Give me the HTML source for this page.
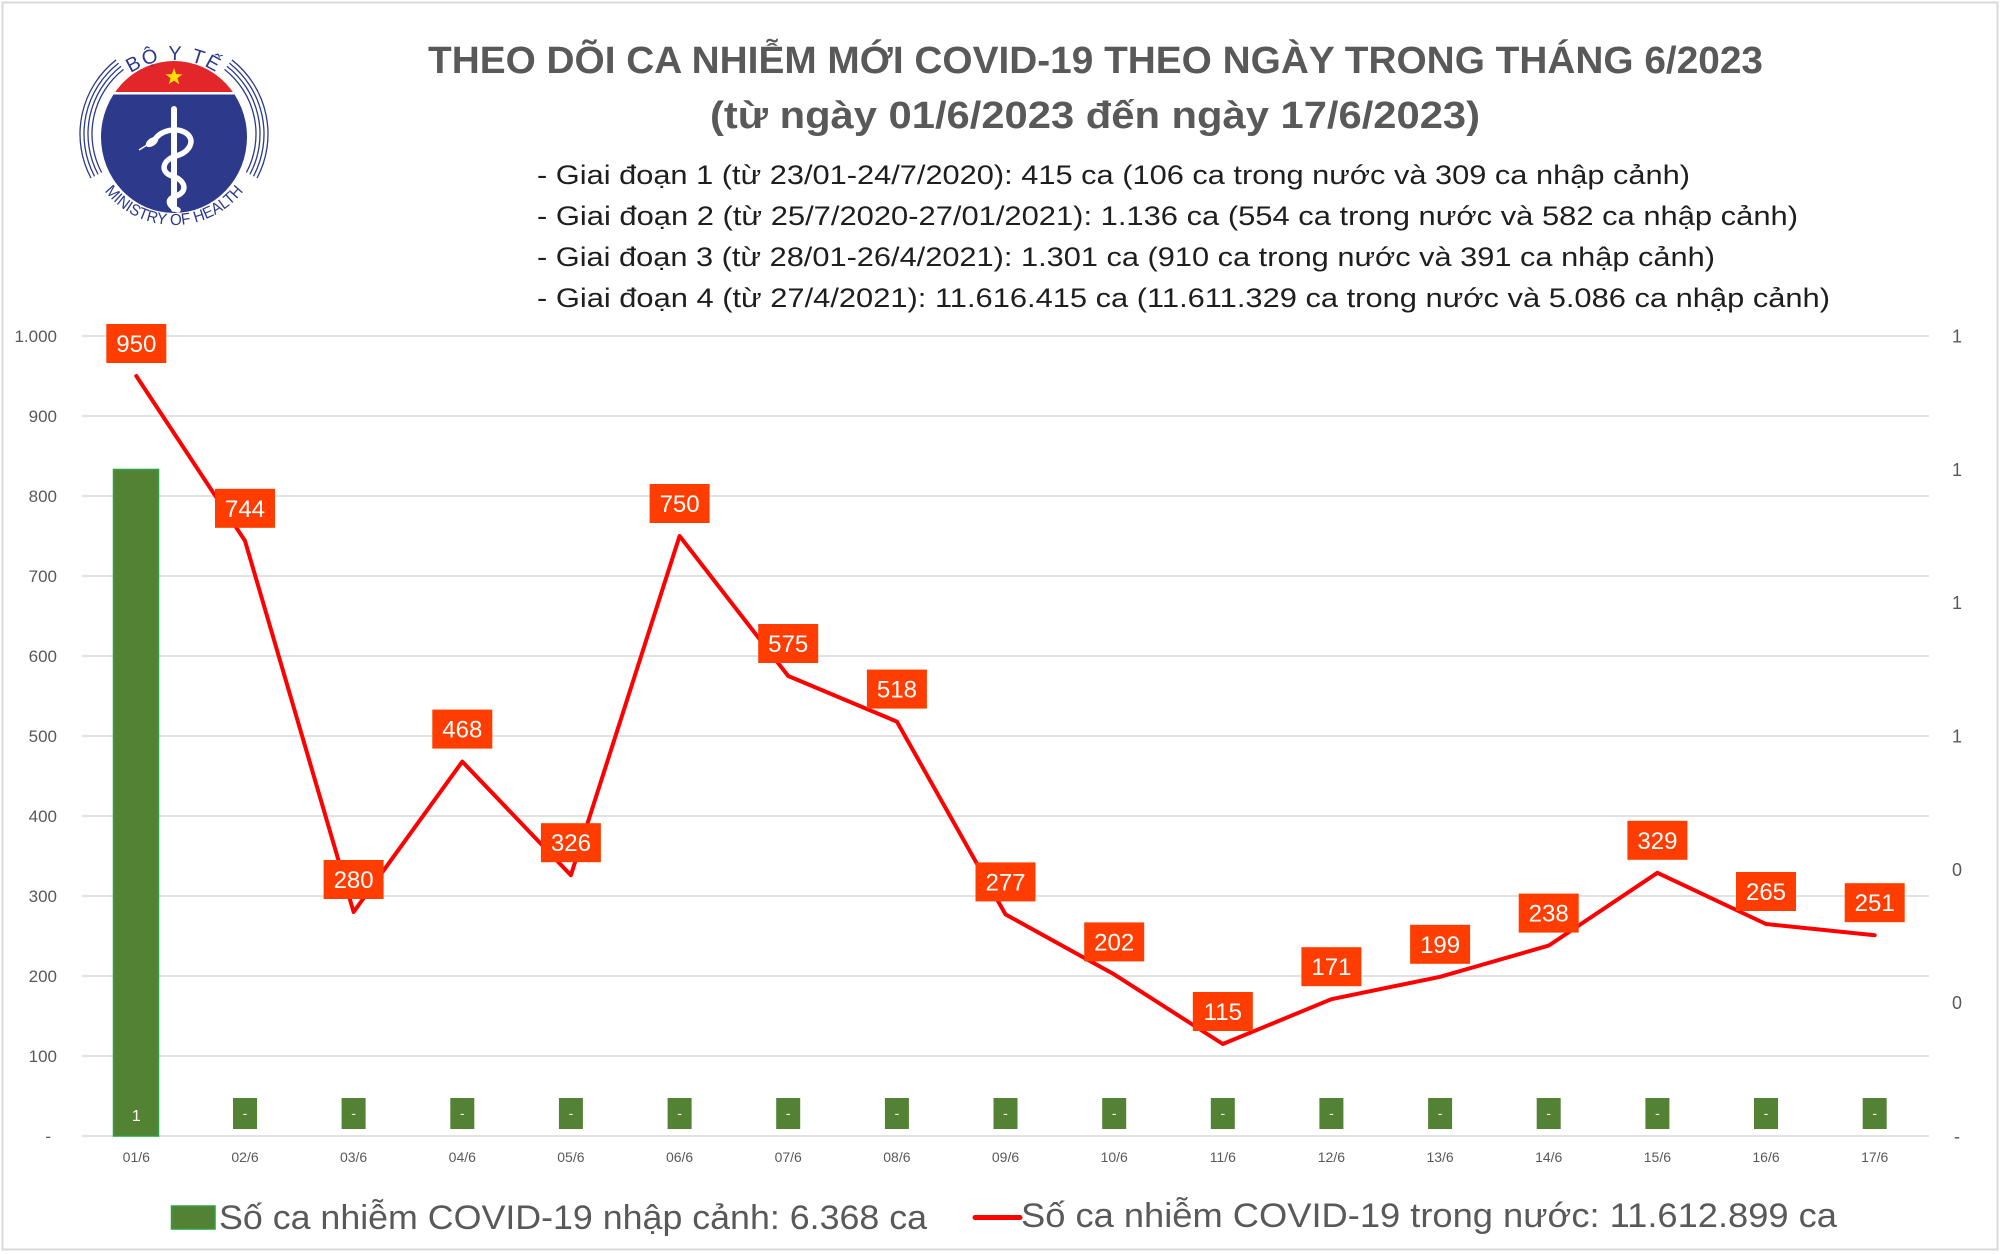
<!DOCTYPE html>
<html>
<head>
<meta charset="utf-8">
<style>
html,body{margin:0;padding:0;background:#fff;}
svg{display:block;}
text{font-family:"Liberation Sans","DejaVu Sans",sans-serif;}
</style>
</head>
<body>
<svg width="2000" height="1254" viewBox="0 0 2000 1254" xmlns="http://www.w3.org/2000/svg">
<rect x="0" y="0" width="2000" height="1254" fill="#fff"/>
<rect x="2.5" y="2.5" width="1995" height="1247" fill="none" stroke="#d9d9d9" stroke-width="2"/>

<!-- Logo -->
<defs>
<clipPath id="lc"><ellipse cx="174" cy="137" rx="73" ry="76"/></clipPath>
<path id="topArc" d="M129.83,73.92 A77 77 0 0 1 218.17,73.92"/>
<path id="botArc" d="M101.91,187.48 A88 88 0 0 0 246.09,187.48"/>
</defs>
<g clip-path="url(#lc)">
<rect x="90" y="50" width="170" height="42" fill="#e3262a"/>
<rect x="90" y="92" width="170" height="2.5" fill="#fff"/>
<rect x="90" y="94.5" width="170" height="130" fill="#2d3a8c"/>
</g>
<polygon points="174,68 176.12,74.09 182.56,74.22 177.42,78.11 179.29,84.28 174,80.6 168.71,84.28 170.58,78.11 165.44,74.22 171.88,74.09" fill="#ffe000"/>
<rect x="171" y="106" width="6" height="106" rx="3" fill="#fff"/>
<path d="M154,141 C160,130 176,127 186,133 C196,140 190,152 176,156 C162,160 160,172 172,176 C186,180 188,192 176,196 C166,199 168,206 178,210" fill="none" stroke="#fff" stroke-width="5.5" stroke-linecap="round"/>
<ellipse cx="152" cy="142" rx="7" ry="4" transform="rotate(-35 152 142)" fill="#fff"/>
<line x1="147" y1="145" x2="139" y2="150" stroke="#fff" stroke-width="1.4"/>
<g fill="none" stroke="#2d3a8c" stroke-width="1.3">
<path d="M123.51,69.38 A82 82 0 0 0 101.60,172.50"/>
<path d="M224.49,69.38 A82 82 0 0 1 246.40,172.50"/>
<path d="M121.05,66.23 A86 86 0 0 0 98.07,174.38"/>
<path d="M226.95,66.23 A86 86 0 0 1 249.93,174.38"/>
<path d="M118.59,63.08 A90 90 0 0 0 94.54,176.26"/>
<path d="M229.41,63.08 A90 90 0 0 1 253.46,176.26"/>
<path d="M116.12,59.93 A94 94 0 0 0 91.01,178.13"/>
<path d="M231.88,59.93 A94 94 0 0 1 256.99,178.13"/>
</g>
<text font-size="20" fill="#2d3a8c"><textPath href="#topArc" startOffset="50%" text-anchor="middle" letter-spacing="2">BỘ Y TẾ</textPath></text>
<text font-size="16" fill="#2d3a8c"><textPath href="#botArc" startOffset="50%" text-anchor="middle" textLength="160" lengthAdjust="spacingAndGlyphs">MINISTRY OF HEALTH</textPath></text>

<!-- Title -->
<text x="428" y="73" font-size="38" font-weight="bold" fill="#595959" textLength="1335" lengthAdjust="spacingAndGlyphs">THEO DÕI CA NHIỄM MỚI COVID-19 THEO NGÀY TRONG THÁNG 6/2023</text>
<text x="710" y="128" font-size="38" font-weight="bold" fill="#595959" textLength="770" lengthAdjust="spacingAndGlyphs">(từ ngày 01/6/2023 đến ngày 17/6/2023)</text>

<g font-size="27" fill="#1e1e1e">
<text x="537" y="184" textLength="1153" lengthAdjust="spacingAndGlyphs">- Giai đoạn 1 (từ 23/01-24/7/2020): 415 ca (106 ca trong nước và 309 ca nhập cảnh)</text>
<text x="537" y="225" textLength="1261" lengthAdjust="spacingAndGlyphs">- Giai đoạn 2 (từ 25/7/2020-27/01/2021): 1.136 ca (554 ca trong nước và 582 ca nhập cảnh)</text>
<text x="537" y="266" textLength="1178" lengthAdjust="spacingAndGlyphs">- Giai đoạn 3 (từ 28/01-26/4/2021): 1.301 ca (910 ca trong nước và 391 ca nhập cảnh)</text>
<text x="537" y="307" textLength="1293" lengthAdjust="spacingAndGlyphs">- Giai đoạn 4 (từ 27/4/2021): 11.616.415 ca (11.611.329 ca trong nước và 5.086 ca nhập cảnh)</text>
</g>

<!-- Gridlines -->
<g stroke="#d9d9d9" stroke-width="1.5">
<line x1="82" y1="336" x2="1929" y2="336"/>
<line x1="82" y1="416" x2="1929" y2="416"/>
<line x1="82" y1="496" x2="1929" y2="496"/>
<line x1="82" y1="576" x2="1929" y2="576"/>
<line x1="82" y1="656" x2="1929" y2="656"/>
<line x1="82" y1="736" x2="1929" y2="736"/>
<line x1="82" y1="816" x2="1929" y2="816"/>
<line x1="82" y1="896" x2="1929" y2="896"/>
<line x1="82" y1="976" x2="1929" y2="976"/>
<line x1="82" y1="1056" x2="1929" y2="1056"/>
<line x1="82" y1="1136" x2="1929" y2="1136"/>
</g>

<!-- Left axis -->
<g font-size="17" fill="#595959" text-anchor="end">
<text x="57" y="342">1.000</text>
<text x="57" y="422">900</text>
<text x="57" y="502">800</text>
<text x="57" y="582">700</text>
<text x="57" y="662">600</text>
<text x="57" y="742">500</text>
<text x="57" y="822">400</text>
<text x="57" y="902">300</text>
<text x="57" y="982">200</text>
<text x="57" y="1062">100</text>
<text x="51" y="1142">-</text>
</g>
<!-- Right axis -->
<g font-size="18" fill="#595959" text-anchor="middle">
<text x="1957" y="342.5">1</text>
<text x="1957" y="475.8">1</text>
<text x="1957" y="609.2">1</text>
<text x="1957" y="742.5">1</text>
<text x="1957" y="875.8">0</text>
<text x="1957" y="1009.2">0</text>
<text x="1957" y="1142.5">-</text>
</g>

<!-- Bars -->
<rect x="113.5" y="469.5" width="45" height="666.5" fill="#548235" stroke="#2ea043" stroke-width="1.5"/>
<text x="136.3" y="1121" font-size="16" fill="#fff" text-anchor="middle">1</text>
<g fill="#548235">
<rect x="233" y="1098" width="24" height="31"/>
<rect x="341.6" y="1098" width="24" height="31"/>
<rect x="450.3" y="1098" width="24" height="31"/>
<rect x="558.9" y="1098" width="24" height="31"/>
<rect x="667.6" y="1098" width="24" height="31"/>
<rect x="776.2" y="1098" width="24" height="31"/>
<rect x="884.9" y="1098" width="24" height="31"/>
<rect x="993.5" y="1098" width="24" height="31"/>
<rect x="1102.2" y="1098" width="24" height="31"/>
<rect x="1210.8" y="1098" width="24" height="31"/>
<rect x="1319.4" y="1098" width="24" height="31"/>
<rect x="1428.1" y="1098" width="24" height="31"/>
<rect x="1536.7" y="1098" width="24" height="31"/>
<rect x="1645.4" y="1098" width="24" height="31"/>
<rect x="1754" y="1098" width="24" height="31"/>
<rect x="1862.7" y="1098" width="24" height="31"/>
</g>
<g font-size="14" fill="#fff" text-anchor="middle">
<text x="245" y="1118">-</text>
<text x="353.6" y="1118">-</text>
<text x="462.3" y="1118">-</text>
<text x="570.9" y="1118">-</text>
<text x="679.6" y="1118">-</text>
<text x="788.2" y="1118">-</text>
<text x="896.9" y="1118">-</text>
<text x="1005.5" y="1118">-</text>
<text x="1114.2" y="1118">-</text>
<text x="1222.8" y="1118">-</text>
<text x="1331.4" y="1118">-</text>
<text x="1440.1" y="1118">-</text>
<text x="1548.7" y="1118">-</text>
<text x="1657.4" y="1118">-</text>
<text x="1766" y="1118">-</text>
<text x="1874.7" y="1118">-</text>
</g>

<!-- Line -->
<polyline fill="none" stroke="#ff0000" stroke-width="4" stroke-linejoin="round" stroke-linecap="round"
points="136.3,376 245,540.8 353.6,912 462.3,761.6 570.9,875.2 679.6,536 788.2,676 896.9,721.6 1005.5,914.4 1114.2,974.4 1222.8,1044 1331.4,999.2 1440.1,976.8 1548.7,945.6 1657.4,872.8 1766,924 1874.7,935.2"/>

<!-- Data label boxes -->
<g fill="#ff3d00">
<rect x="106.3" y="324" width="60" height="39"/>
<rect x="215" y="488.8" width="60" height="39"/>
<rect x="323.6" y="860" width="60" height="39"/>
<rect x="432.3" y="709.6" width="60" height="39"/>
<rect x="540.9" y="823.2" width="60" height="39"/>
<rect x="649.6" y="484" width="60" height="39"/>
<rect x="758.2" y="624" width="60" height="39"/>
<rect x="866.9" y="669.6" width="60" height="39"/>
<rect x="975.5" y="862.4" width="60" height="39"/>
<rect x="1084.2" y="922.4" width="60" height="39"/>
<rect x="1192.8" y="992" width="60" height="39"/>
<rect x="1301.4" y="947.2" width="60" height="39"/>
<rect x="1410.1" y="924.8" width="60" height="39"/>
<rect x="1518.7" y="893.6" width="60" height="39"/>
<rect x="1627.4" y="820.8" width="60" height="39"/>
<rect x="1736" y="872" width="60" height="39"/>
<rect x="1844.7" y="883.2" width="60" height="39"/>
</g>
<g font-size="24" fill="#fff" text-anchor="middle">
<text x="136.3" y="352">950</text>
<text x="245" y="516.8">744</text>
<text x="353.6" y="888">280</text>
<text x="462.3" y="737.6">468</text>
<text x="570.9" y="851.2">326</text>
<text x="679.6" y="512">750</text>
<text x="788.2" y="652">575</text>
<text x="896.9" y="697.6">518</text>
<text x="1005.5" y="890.4">277</text>
<text x="1114.2" y="950.4">202</text>
<text x="1222.8" y="1020">115</text>
<text x="1331.4" y="975.2">171</text>
<text x="1440.1" y="952.8">199</text>
<text x="1548.7" y="921.6">238</text>
<text x="1657.4" y="848.8">329</text>
<text x="1766" y="900">265</text>
<text x="1874.7" y="911.2">251</text>
</g>

<!-- Category labels -->
<g font-size="14" fill="#595959" text-anchor="middle">
<text x="136.3" y="1162">01/6</text>
<text x="245" y="1162">02/6</text>
<text x="353.6" y="1162">03/6</text>
<text x="462.3" y="1162">04/6</text>
<text x="570.9" y="1162">05/6</text>
<text x="679.6" y="1162">06/6</text>
<text x="788.2" y="1162">07/6</text>
<text x="896.9" y="1162">08/6</text>
<text x="1005.5" y="1162">09/6</text>
<text x="1114.2" y="1162">10/6</text>
<text x="1222.8" y="1162">11/6</text>
<text x="1331.4" y="1162">12/6</text>
<text x="1440.1" y="1162">13/6</text>
<text x="1548.7" y="1162">14/6</text>
<text x="1657.4" y="1162">15/6</text>
<text x="1766" y="1162">16/6</text>
<text x="1874.7" y="1162">17/6</text>
</g>

<!-- Legend -->
<rect x="171.5" y="1206" width="43.5" height="23" fill="#548235" stroke="#2ea043" stroke-width="1.5"/>
<text x="219" y="1229" font-size="34" fill="#595959" textLength="708" lengthAdjust="spacingAndGlyphs">Số ca nhiễm COVID-19 nhập cảnh: 6.368 ca</text>
<line x1="975" y1="1217.5" x2="1020" y2="1217.5" stroke="#ff0000" stroke-width="5" stroke-linecap="round"/>
<text x="1021" y="1227" font-size="34" fill="#595959" textLength="816" lengthAdjust="spacingAndGlyphs">Số ca nhiễm COVID-19 trong nước: 11.612.899 ca</text>
</svg>
</body>
</html>
